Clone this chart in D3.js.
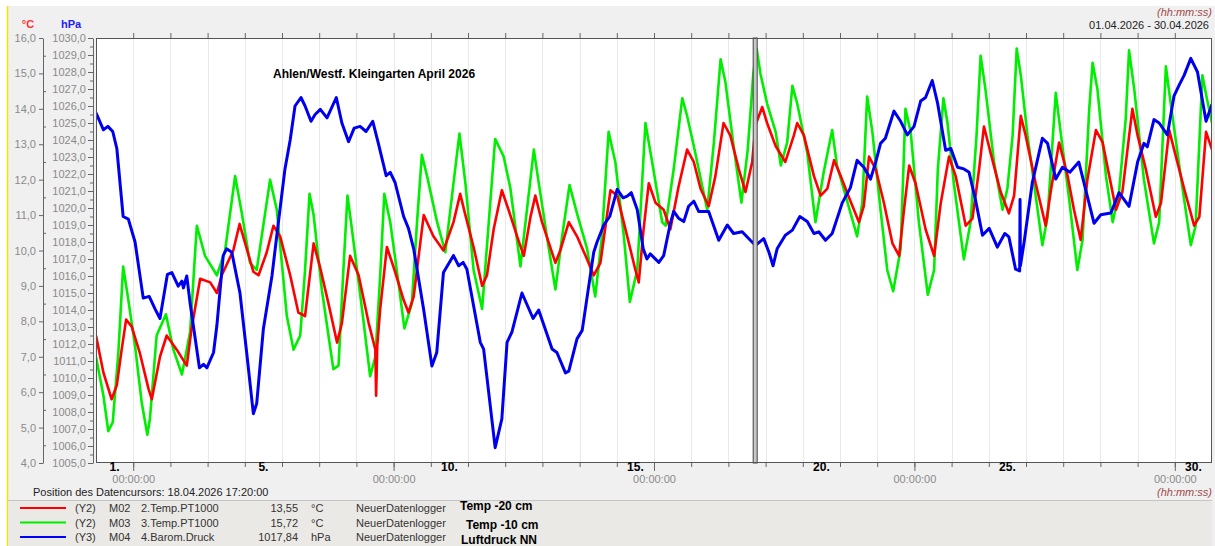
<!DOCTYPE html>
<html>
<head>
<meta charset="utf-8">
<title>Ahlen/Westf. Kleingarten April 2026</title>
<script src="https://cdn.jsdelivr.net/npm/d3@7"></script>
<style>
  body { margin: 0; background: #fff; }
  svg { display: block; font-family: "Liberation Sans", Arial, sans-serif; }
  .axis text { fill: #8a8a8a; font-size: 11px; font-family: "Liberation Sans", Arial, sans-serif; }
  .axis line { stroke: #666; }
  .axis path { stroke: #666; }
</style>
</head>
<body>
<svg id="chart" width="1215" height="546"></svg>
<script>
// time in days since 01.04.2026 00:00
var title = "Ahlen/Westf. Kleingarten April 2026";
var dateRange = "01.04.2026 - 30.04.2026";
var cursorDay = 17.72;
var cursorText = "Position des Datencursors: 18.04.2026 17:20:00";

var dayNumbers = [1, 5, 10, 15, 20, 25, 30];
var weekTicks = [1, 8, 15, 22, 29];
var tempTicks = [4, 5, 6, 7, 8, 9, 10, 11, 12, 13, 14, 15, 16];
var pressTicks = d3.range(1005, 1031, 1);

// Temp -20 cm (red)
var t20 = [0.00,0.20,0.42,0.56,0.69,0.81,0.96,1.18,1.41,1.50,1.72,1.90,2.17,2.44,2.57,2.80,3.07,3.25,3.38,3.69,
  3.86,4.01,4.23,4.37,4.59,4.77,4.95,5.22,5.44,5.62,5.85,6.03,6.25,6.48,6.61,6.83,7.06,7.33,7.51,7.53,
  7.56,7.64,7.82,8.04,8.27,8.40,8.54,8.81,9.07,9.34,9.61,9.79,9.93,10.15,10.38,10.51,10.69,10.91,11.09,11.32,
  11.50,11.68,11.81,11.99,12.35,12.48,12.71,12.93,13.16,13.38,13.56,13.83,14.01,14.28,14.50,14.59,14.72,14.86,15.04,15.26,
  15.44,15.66,15.89,16.07,16.25,16.47,16.65,16.87,17.05,17.28,17.46,17.64,17.73,17.91,18.04,18.27,18.53,18.76,18.85,19.03,
  19.30,19.48,19.66,19.84,20.02,20.28,20.51,20.64,20.78,20.96,21.18,21.41,21.59,21.72,21.86,22.03,22.30,22.53,22.71,22.93,
  23.11,23.38,23.56,23.74,23.87,24.05,24.32,24.54,24.68,24.86,24.99,25.26,25.53,25.67,25.89,26.12,26.29,26.47,26.65,26.88,
  27.06,27.24,27.42,27.59,27.86,28.00,28.22,28.49,28.63,28.85,29.03,29.25,29.52,29.66,29.84,30.00];
var v20 = [7.6,6.55,5.8,6.2,7.2,8.05,7.85,7.1,6.1,5.8,7.0,7.6,7.2,6.75,7.8,9.2,9.1,8.8,9.3,10.0,
  10.75,10.2,9.4,9.3,9.95,10.7,10.4,9.3,8.25,8.15,10.2,9.5,8.5,7.4,7.95,9.85,9.3,7.95,7.2,5.9,
  7.3,8.35,10.1,9.4,8.6,8.25,8.7,11.0,10.4,10.0,10.8,11.6,11.0,10.1,9.0,9.3,10.6,11.7,11.15,10.4,
  9.85,10.95,11.55,10.8,9.65,10.0,10.8,10.4,9.85,9.3,9.65,11.7,11.55,10.4,9.45,9.1,10.6,11.9,11.35,11.15,
  10.6,11.8,12.85,12.5,11.75,11.25,12.1,13.6,13.25,12.3,11.65,12.5,13.55,14.05,13.6,12.95,12.5,13.25,13.6,13.25,
  12.1,11.55,11.75,12.55,12.1,11.4,10.8,11.25,12.65,12.3,11.35,10.2,9.85,11.15,12.4,11.9,10.6,9.85,11.35,12.65,
  12.1,10.7,10.9,12.3,13.5,12.75,11.65,11.05,11.55,13.8,13.25,11.9,10.7,11.7,13.05,12.1,11.15,10.3,12.0,13.4,
  13.05,12.1,11.15,11.65,14.0,13.25,12.3,10.95,11.35,13.4,12.65,11.75,10.7,10.95,13.35,12.85];

// Temp -10 cm (green)
var t10 = [0.00,0.20,0.33,0.45,0.60,0.73,0.87,1.05,1.23,1.38,1.45,1.63,1.88,2.08,2.31,2.53,2.71,2.93,3.25,3.47,
  3.74,3.92,4.14,4.32,4.68,4.86,5.13,5.31,5.49,5.62,5.74,5.85,6.07,6.38,6.52,6.65,6.76,6.88,7.15,7.37,
  7.51,7.64,7.75,7.91,8.13,8.29,8.49,8.63,8.76,8.90,9.17,9.39,9.61,9.77,9.93,10.15,10.38,10.73,10.96,11.14,
  11.41,11.77,11.86,12.12,12.35,12.53,12.73,12.93,13.20,13.42,13.60,13.78,13.96,14.19,14.35,14.55,14.77,14.95,15.22,15.31,
  15.53,15.76,15.89,16.07,16.43,16.61,16.79,16.92,17.14,17.35,17.52,17.67,17.76,17.86,18.04,18.27,18.41,18.58,18.72,18.85,
  19.12,19.34,19.56,19.79,19.92,20.15,20.46,20.60,20.73,20.87,21.09,21.27,21.43,21.63,21.76,21.90,22.12,22.36,22.53,22.63,
  22.78,22.89,23.06,23.33,23.51,23.67,23.78,23.91,24.14,24.37,24.50,24.64,24.75,24.86,25.04,25.26,25.44,25.58,25.80,25.93,
  26.16,26.38,26.52,26.70,26.79,26.92,27.15,27.33,27.50,27.68,27.77,27.91,28.17,28.44,28.58,28.76,28.89,29.16,29.43,29.56,
  29.74,29.87,30.00];
var v10 = [7.0,5.9,4.9,5.15,7.1,9.55,8.6,7.3,5.7,4.8,5.25,7.6,8.2,7.2,6.5,7.7,10.7,9.85,9.3,10.0,
  12.1,11.05,9.65,9.45,12.0,11.15,8.15,7.2,7.6,9.45,11.6,11.0,8.9,6.65,6.75,9.45,11.55,10.6,8.35,6.45,
  7.0,9.3,11.6,10.8,9.1,7.8,8.5,10.8,12.7,12.1,10.8,9.95,11.9,13.3,11.9,9.45,8.35,13.15,12.65,11.75,
  9.55,12.85,12.2,10.4,8.9,10.4,11.85,11.05,10.05,8.7,10.4,13.35,12.5,10.4,8.55,9.45,13.6,12.5,10.8,10.7,
  12.3,14.3,13.8,12.95,11.15,13.05,15.4,14.75,12.95,11.35,12.85,15.0,15.7,15.0,14.15,13.35,12.4,13.05,14.65,14.15,
  12.75,10.8,12.2,13.4,12.4,11.55,10.4,11.35,14.35,13.35,11.15,9.45,8.85,10.05,14.0,13.35,10.8,8.75,9.45,12.3,
  14.3,13.6,11.9,9.75,10.8,13.25,15.5,14.55,12.5,11.15,11.75,13.25,15.7,14.95,13.25,11.55,10.15,10.95,14.45,13.35,
  11.45,9.45,10.3,14.0,15.3,14.55,12.1,10.8,11.65,13.7,15.65,14.55,12.0,10.2,10.8,15.2,14.15,12.1,10.15,10.7,
  14.95,14.25,13.6];

// Luftdruck NN (blue)
var tP = [0.00,0.20,0.32,0.45,0.56,0.73,0.87,1.05,1.27,1.43,1.59,1.72,1.92,2.04,2.21,2.31,2.35,2.44,2.53,2.78,
  2.89,2.98,3.16,3.25,3.42,3.51,3.65,3.87,4.05,4.23,4.32,4.50,4.73,4.90,5.08,5.22,5.35,5.51,5.62,5.78,
  5.89,6.03,6.21,6.46,6.61,6.79,6.94,7.10,7.26,7.44,7.59,7.80,7.91,8.04,8.27,8.40,8.54,8.81,9.03,9.16,
  9.34,9.61,9.75,9.87,9.97,10.33,10.42,10.73,10.91,11.05,11.18,11.45,11.75,11.90,12.26,12.39,12.62,12.71,12.93,13.07,
  13.38,13.47,13.65,13.81,14.01,14.17,14.28,14.39,14.55,14.71,14.81,14.90,15.13,15.26,15.44,15.53,15.66,15.80,15.93,16.07,
  16.20,16.47,16.74,16.97,17.14,17.37,17.59,17.73,17.95,18.09,18.20,18.31,18.53,18.72,18.92,19.12,19.30,19.43,19.61,19.79,
  20.06,20.28,20.46,20.64,20.82,20.96,21.09,21.22,21.45,21.63,21.81,21.99,22.17,22.30,22.48,22.62,22.84,22.98,23.16,23.33,
  23.47,23.65,23.83,24.01,24.23,24.43,24.54,24.72,24.83,24.84,24.85,24.95,25.17,25.44,25.58,25.80,25.98,26.18,26.42,26.83,
  27.01,27.28,27.50,27.77,28.00,28.17,28.26,28.44,28.58,28.80,28.98,29.11,29.25,29.43,29.61,29.84,30.00];
var vP = [1025.6,1024.6,1024.8,1024.5,1023.5,1019.5,1019.35,1018.0,1014.7,1014.8,1014.05,1013.5,1016.1,1016.2,1015.4,1015.7,1015.3,1016.0,1014.4,1010.6,
  1010.8,1010.6,1011.5,1013.1,1017.2,1017.6,1017.4,1015.0,1011.5,1007.9,1008.5,1012.9,1016.0,1019.1,1022.3,1024.0,1026.0,1026.5,1026.0,1025.1,
  1025.5,1025.8,1025.3,1026.5,1025.0,1023.9,1024.7,1024.8,1024.5,1025.1,1023.8,1021.9,1022.1,1021.5,1019.5,1018.8,1017.6,1014.0,1010.7,1011.5,
  1016.2,1017.2,1016.6,1016.8,1016.4,1012.1,1011.7,1005.9,1007.6,1012.1,1012.7,1015.0,1013.5,1014.0,1011.7,1011.5,1010.3,1010.4,1012.3,1012.8,
  1017.4,1018.0,1019.0,1019.5,1021.1,1020.6,1020.7,1020.9,1019.9,1017.6,1017.0,1017.3,1016.8,1017.2,1019.1,1019.8,1019.4,1019.2,1020.1,1020.4,
  1019.8,1019.8,1018.1,1019.0,1018.5,1018.6,1018.1,1017.8,1018.2,1017.4,1016.6,1017.6,1018.4,1018.7,1019.5,1019.2,1018.5,1018.6,1018.1,1018.5,
  1020.3,1021.2,1022.8,1022.4,1021.7,1022.7,1023.8,1024.1,1025.7,1025.1,1024.3,1024.8,1026.3,1026.5,1027.5,1026.2,1023.4,1023.5,1022.4,1022.3,
  1022.1,1020.4,1018.4,1018.8,1017.7,1018.5,1018.3,1016.4,1016.3,1020.5,1016.6,1018.0,1021.5,1024.1,1023.8,1021.7,1022.4,1022.1,1022.7,1019.1,
  1019.6,1019.7,1020.9,1020.1,1022.7,1023.8,1023.6,1025.2,1025.0,1024.3,1026.6,1027.2,1027.8,1028.8,1028.0,1025.1,1026.1];

// legend rows
var legendColors = ["#ff0000", "#00ee00", "#0000ff"];
var legendAxis = ["(Y2)", "(Y2)", "(Y3)"];
var legendIds = ["M02", "M03", "M04"];
var legendNames = ["2.Temp.PT1000", "3.Temp.PT1000", "4.Barom.Druck"];
var legendValues = ["13,55", "15,72", "1017,84"];
var legendUnits = ["°C", "°C", "hPa"];
var legendLogger = ["NeuerDatenlogger", "NeuerDatenlogger", "NeuerDatenlogger"];
var legendLabels = ["Temp -20 cm", "Temp -10 cm", "Luftdruck NN"];

var svg = d3.select("#chart");
var W = 1215, H = 546;
var plotL = 96, plotR = 1212, plotT = 38, plotB = 463;

var x = d3.scaleLinear().domain([0, 30]).range([plotL, plotR]);
var yT = d3.scaleLinear().domain([4, 16]).range([plotB, plotT]);
var yP = d3.scaleLinear().domain([1005, 1030]).range([plotB, plotT]);

var comma1 = function (d) { return d3.format(".1f")(d).replace(".", ","); };

// background
svg.append("rect").attr("x", 0).attr("y", 0).attr("width", W).attr("height", H).attr("fill", "#fff");
svg.append("rect").attr("x", 7).attr("y", 6).attr("width", W - 7).attr("height", H - 6).attr("fill", "#f0f0f0");
svg.append("line").attr("x1", 7.5).attr("x2", 7.5).attr("y1", 6).attr("y2", H)
  .attr("stroke", "#f2e600").attr("stroke-width", 1.5);

// legend box
svg.append("rect").attr("x", 8).attr("y", 500).attr("width", plotR - 8).attr("height", H - 500)
  .attr("fill", "#ebe9e6");
svg.append("line").attr("x1", 8).attr("x2", plotR).attr("y1", 500.5).attr("y2", 500.5)
  .attr("stroke", "#c4c4c4");

// plot area
svg.append("rect").attr("x", plotL).attr("y", plotT).attr("width", plotR - plotL).attr("height", plotB - plotT)
  .attr("fill", "#fff");

var days = d3.range(1, 30);
svg.append("g").selectAll("line").data(days).enter().append("line")
  .attr("x1", function (d) { return Math.round(x(d)) + 0.5; })
  .attr("x2", function (d) { return Math.round(x(d)) + 0.5; })
  .attr("y1", plotT).attr("y2", plotB)
  .attr("stroke", "#e9e9e9");

svg.append("defs").append("clipPath").attr("id", "clip")
  .append("rect").attr("x", plotL).attr("y", plotT).attr("width", plotR - plotL).attr("height", plotB - plotT);

var plot = svg.append("g").attr("clip-path", "url(#clip)");

function series(ts, vs) {
  return ts.map(function (t, i) { return [t, vs[i]]; });
}
var lineT = d3.line().x(function (d) { return x(d[0]); }).y(function (d) { return yT(d[1]); });
var lineP = d3.line().x(function (d) { return x(d[0]); }).y(function (d) { return yP(d[1]); });

plot.append("path").datum(series(t10, v10)).attr("d", lineT)
  .attr("fill", "none").attr("stroke", "#00ee00").attr("stroke-width", 2.6).attr("stroke-linejoin", "round");
plot.append("path").datum(series(t20, v20)).attr("d", lineT)
  .attr("fill", "none").attr("stroke", "#ff0000").attr("stroke-width", 2.6).attr("stroke-linejoin", "round");
plot.append("path").datum(series(tP, vP)).attr("d", lineP)
  .attr("fill", "none").attr("stroke", "#0000f0").attr("stroke-width", 3).attr("stroke-linejoin", "round");

// data cursor
svg.append("rect").attr("x", x(cursorDay) - 2).attr("y", plotT).attr("width", 4).attr("height", plotB - plotT)
  .attr("fill", "#c8c8c8").attr("stroke", "#444").attr("stroke-width", 1);

// border
svg.append("rect").attr("x", plotL + 0.5).attr("y", plotT + 0.5).attr("width", plotR - plotL - 1).attr("height", plotB - plotT - 1)
  .attr("fill", "none").attr("stroke", "#555");

// title
svg.append("text").attr("x", 273).attr("y", 78).text(title)
  .style("font-weight", "bold").style("font-size", "12px").attr("fill", "#000");

// °C axis
svg.append("g").attr("class", "axis").attr("transform", "translate(43,0)")
  .call(d3.axisLeft(yT).tickValues(tempTicks).tickSize(4).tickSizeOuter(0).tickPadding(3).tickFormat(comma1));
svg.append("g").attr("class", "axis").attr("transform", "translate(43,0)")
  .call(d3.axisRight(yT).tickValues(d3.range(4.5, 16, 1)).tickSize(3).tickFormat(""))
  .select(".domain").remove();

// hPa axis
svg.append("g").attr("class", "axis").attr("transform", "translate(93,0)")
  .call(d3.axisLeft(yP).tickValues(pressTicks).tickSize(5).tickSizeOuter(0).tickPadding(2).tickFormat(comma1));
svg.append("g").attr("class", "axis").attr("transform", "translate(93,0)")
  .call(d3.axisLeft(yP).tickValues(d3.range(1005.5, 1030, 1)).tickSize(3).tickFormat(""))
  .select(".domain").remove();

// unit labels
svg.append("text").attr("x", 28).attr("y", 28).attr("text-anchor", "middle").text("°C")
  .attr("fill", "#ff3030").style("font-size", "11px").style("font-weight", "bold");
svg.append("text").attr("x", 71).attr("y", 28).attr("text-anchor", "middle").text("hPa")
  .attr("fill", "#2020ff").style("font-size", "11px").style("font-weight", "bold");

// top ticks
svg.append("g").attr("class", "axis").attr("transform", "translate(0," + plotT + ")")
  .call(d3.axisTop(x).tickValues(days).tickSize(5).tickFormat(""))
  .select(".domain").remove();

// bottom ticks
svg.append("g").attr("class", "axis").attr("transform", "translate(0," + plotB + ")")
  .call(d3.axisBottom(x).tickValues(days).tickSize(4).tickFormat(""))
  .select(".domain").remove();
svg.append("g").attr("class", "axis").attr("transform", "translate(0," + plotB + ")")
  .call(d3.axisBottom(x).tickValues(weekTicks).tickSize(8).tickPadding(4).tickFormat(function () { return "00:00:00"; }))
  .select(".domain").remove();

// day labels
svg.append("g").selectAll("text").data(dayNumbers).enter().append("text")
  .attr("x", function (d) { return x(d - 0.5); })
  .attr("y", 471)
  .attr("text-anchor", "middle")
  .style("font-size", "12px").style("font-weight", "bold").attr("fill", "#000")
  .text(function (d) { return d + "."; });

// header texts
svg.append("text").attr("x", 1212).attr("y", 16).attr("text-anchor", "end").text("(hh:mm:ss)")
  .attr("fill", "#a04848").style("font-size", "11px").style("font-style", "italic");
svg.append("text").attr("x", 1209).attr("y", 29).attr("text-anchor", "end").text(dateRange)
  .attr("fill", "#222").style("font-size", "11px");
svg.append("text").attr("x", 1212).attr("y", 496).attr("text-anchor", "end").text("(hh:mm:ss)")
  .attr("fill", "#a04848").style("font-size", "11px").style("font-style", "italic");
svg.append("text").attr("x", 33).attr("y", 496).text(cursorText)
  .attr("fill", "#222").style("font-size", "11px");

// legend rows
var rowY = [508, 522.5, 537];
var labelY = [506, 525, 540];
var rows = svg.append("g").selectAll("g").data(legendColors).enter().append("g")
  .attr("transform", function (d, i) { return "translate(0," + rowY[i] + ")"; });
rows.append("line").attr("x1", 20).attr("x2", 66).attr("y1", 0).attr("y2", 0)
  .attr("stroke", function (d) { return d; }).attr("stroke-width", 2);
function cell(xPos, arr, anchor) {
  rows.append("text").attr("x", xPos).attr("y", 4).attr("text-anchor", anchor || "start")
    .attr("fill", "#333").style("font-size", "11px")
    .text(function (d, i) { return arr[i]; });
}
cell(75, legendAxis);
cell(109, legendIds);
cell(141, legendNames);
cell(298, legendValues, "end");
cell(311, legendUnits);
cell(356, legendLogger);
svg.append("g").selectAll("text").data(legendLabels).enter().append("text")
  .attr("x", function (d, i) { return [460, 466, 461][i]; })
  .attr("y", function (d, i) { return labelY[i] + 4; })
  .style("font-size", "12px").style("font-weight", "bold").attr("fill", "#000")
  .text(function (d) { return d; });
</script>
</body>
</html>
